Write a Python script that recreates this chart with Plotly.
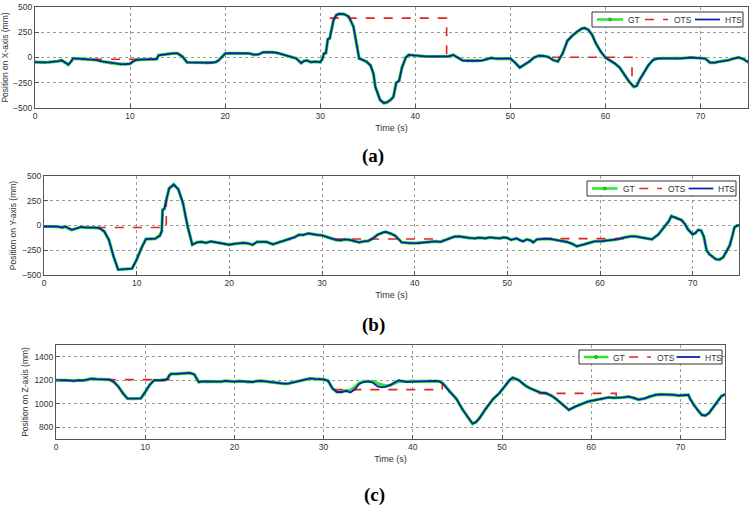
import plotly.graph_objects as go

W, H = 750, 505

# ---------------- Panel (a): X-axis ----------------
t_a = [0, 0.5, 1, 1.5, 2, 2.5, 2.8, 3.2, 3.5, 3.8, 4, 4.5, 5, 5.5, 6, 6.5, 7, 7.5, 8, 8.5, 9, 9.5, 10,
       10.3, 10.6, 11, 11.5, 12, 12.5, 12.8, 13, 13.5, 14, 14.5, 15, 15.5, 16, 16.5, 17, 17.5, 18, 18.5,
       19, 19.3, 19.6, 20, 20.5, 21, 21.5, 22, 22.5, 23, 23.5, 24, 24.5, 25, 25.5, 26, 26.5, 27, 27.5,
       28, 28.3, 28.6, 29, 29.5, 30, 30.2, 30.4, 30.6, 30.8, 31, 31.2, 31.4, 31.7, 32, 32.5, 33, 33.5,
       33.7, 33.9, 34.1, 34.5, 34.9, 35.3, 35.6, 35.8, 36.3, 36.7, 37, 37.4, 37.7, 38, 38.3, 38.6, 39,
       39.3, 40, 40.5, 41, 42, 43, 43.5, 44, 44.5, 45, 45.5, 46, 46.5, 47, 47.5, 48, 48.5, 49, 49.5, 50,
       50.5, 51, 51.5, 52, 52.5, 53, 53.5, 54, 54.5, 55, 55.5, 56, 56.5, 57, 57.5, 57.8, 58.2, 58.6, 59,
       59.5, 60, 60.5, 61, 61.5, 62, 62.5, 63, 63.3, 63.6, 64, 64.5, 65, 65.5, 66, 67, 67.5, 68, 69, 70,
       70.5, 71, 71.5, 72, 72.5, 73, 73.5, 74, 74.5, 75]
gt_a = [-45, -50, -48, -45, -42, -35, -28, -50, -70, -40, -10, -12, -15, -18, -20, -25, -38, -45, -58, -62,
        -65, -66, -62, -40, -25, -22, -20, -20, -22, -15, 22, 30, 38, 40, 40, 10, -48, -50, -48, -52, -55,
        -52, -45, -30, 0, 38, 42, 40, 40, 38, 40, 28, 30, 52, 55, 52, 45, 32, 20, 5, -10, -55, -35, -28,
        -45, -40, -45, -20, 40, 45, 180, 190, 290, 370, 420, 432, 430, 405, 305, 205, 105, -10, -25, -43,
        -80, -160, -290, -420, -450, -445, -420, -390, -250, -230, -100, 0, 25, 18, 15, 12, 10, 15, 12, 25,
        0, -30, -32, -35, -32, -30, -20, -5, -12, -10, -8, -10, -50, -100, -70, -40, 0, 18, 15, 5, -25, -40,
        40, 165, 215, 255, 285, 292, 275, 225, 140, 60, 0, -30, -60, -100, -175, -240, -290, -280, -220,
        -160, -80, -25, -10, -8, -10, -5, -8, 0, -5, -10, -50, -50, -40, -35, -25, -10, 0, -15, -45]
hts_a = list(gt_a)
ots_t_a = [6.1, 13.2, None, 31.0, 43.3, 43.3, None, 54.4, 62.8, 62.8]
ots_a = [-17, -17, None, 390, 390, 15, None, 3, 3, -285]

# ---------------- Panel (b): Y-axis ----------------
t_b = [0, 0.5, 1, 1.5, 2, 2.3, 2.6, 3, 3.5, 4, 4.5, 5, 5.5, 6, 6.5, 7, 7.5, 8, 8.5, 9, 9.5, 10, 10.5, 11,
       11.5, 12, 12.5, 12.7, 12.8, 13, 13.2, 13.5, 14, 14.5, 15, 15.5, 16, 16.5, 17, 17.5, 18, 18.5, 19,
       19.5, 20, 20.5, 21, 21.5, 22, 22.5, 23, 23.5, 24, 24.7, 25.2, 25.5, 26, 26.5, 27, 27.5, 28, 28.5,
       29, 29.5, 30, 30.5, 31, 31.5, 32, 32.5, 33, 33.5, 34, 34.5, 35, 35.5, 36, 36.6, 36.9, 37.5, 37.9,
       38.6, 39.5, 40.4, 41, 41.5, 42.2, 42.8, 43.2, 43.7, 44.3, 44.8, 45.3, 45.9, 46.5, 47, 47.6, 48.1,
       48.6, 49.2, 49.6, 50, 50.4, 51, 51.4, 51.7, 52.1, 52.5, 52.8, 53.2, 54, 54.6, 55.5, 56.4, 57, 57.5,
       58.3, 58.8, 59.4, 60.2, 60.9, 61.8, 62.7, 63.3, 63.8, 64.4, 64.9, 65.6, 66.3, 66.9, 67.4, 67.7,
       68.2, 68.8, 69.2, 69.5, 70, 70.3, 70.6, 70.9, 71.2, 71.5, 71.8, 72.1, 72.5, 72.9, 73.3, 73.6, 74,
       74.3, 74.5, 74.8, 75]
gt_b = [-10, -8, -10, -12, -20, -10, -28, -43, -30, -15, -20, -18, -22, -27, -60, -145, -310, -445, -440,
        -440, -435, -345, -230, -137, -135, -133, -103, -60, 157, 170, 257, 374, 414, 364, 224, -10, -194,
        -170, -165, -175, -160, -170, -175, -185, -194, -185, -180, -175, -180, -195, -165, -165, -165,
        -190, -175, -165, -155, -140, -120, -95, -95, -80, -90, -95, -100, -115, -133, -145, -150, -140,
        -145, -160, -170, -160, -155, -130, -93, -70, -65, -85, -103, -170, -178, -177, -170, -168, -160,
        -165, -150, -127, -112, -110, -120, -125, -130, -122, -130, -120, -125, -130, -120, -125, -145,
        -130, -150, -160, -140, -150, -170, -140, -135, -135, -150, -165, -185, -210, -190, -175, -160,
        -158, -150, -140, -120, -110, -110, -120, -130, -140, -90, -20, 40, 95, 80, 55, 10, -40, -90, -75,
        -45, -50, -110, -250, -290, -310, -340, -345, -320, -270, -200, -100, -20, 0, 0]
hts_b = list(gt_b)
ots_t_b = [5.7, 13.2, 13.2, None, 31.3, 43.0, None, 53.8, 62.8]
ots_b = [-20, -20, 265, None, -137, -137, None, -133, -133]

# ---------------- Panel (c): Z-axis ----------------
t_c = [0, 0.5, 1, 1.5, 2, 2.5, 3, 3.5, 4, 4.5, 5, 5.5, 6, 6.5, 7, 7.5, 8, 8.5, 9, 9.5, 10, 10.5, 11, 11.5,
       12, 12.3, 12.5, 12.7, 12.9, 13.5, 14, 14.5, 15, 15.5, 16, 16.5, 17, 17.5, 18, 18.5, 19, 19.5, 20,
       20.5, 21, 21.5, 22, 22.5, 23, 23.5, 24, 24.5, 25, 25.5, 26, 26.5, 27, 27.5, 28, 28.5, 29, 29.5, 30,
       30.5, 31, 31.5, 32, 32.5, 33, 33.5, 34, 34.5, 35, 35.5, 36, 36.5, 37, 37.5, 38, 38.4, 39, 39.3, 40,
       40.5, 41, 41.9, 42.5, 43, 43.4, 44.1, 44.9, 45.6, 46.1, 46.7, 47.1, 47.5, 48.2, 49, 49.7, 50.1,
       50.5, 50.9, 51.2, 51.5, 51.9, 52.3, 52.7, 53.2, 53.8, 54.3, 54.9, 55.5, 56, 56.4, 56.8, 57.5, 58.2,
       58.6, 59, 59.7, 60.4, 61.2, 62, 62.5, 63.1, 63.6, 64.2, 64.8, 65.3, 66, 66.5, 67.2, 67.8, 68.7,
       69.3, 69.8, 70.4, 70.9, 71.1, 71.5, 72, 72.4, 72.8, 73.2, 73.5, 74, 74.3, 74.6, 75]
gt_c = [1200, 1202, 1200, 1198, 1195, 1200, 1198, 1205, 1213, 1210, 1210, 1205, 1205, 1185, 1145, 1090,
        1045, 1043, 1045, 1045, 1100, 1160, 1200, 1198, 1200, 1205, 1213, 1240, 1255, 1255, 1258, 1255,
        1262, 1250, 1185, 1190, 1188, 1192, 1190, 1188, 1195, 1190, 1188, 1192, 1190, 1182, 1185, 1192,
        1195, 1190, 1185, 1180, 1178, 1172, 1172, 1180, 1190, 1200, 1210, 1215, 1212, 1210, 1208, 1195,
        1130, 1100, 1100, 1110, 1115, 1140, 1175, 1190, 1190, 1190, 1175, 1160, 1150, 1160, 1180, 1190,
        1190, 1190, 1195, 1190, 1192, 1195, 1195, 1190, 1170, 1105, 1040, 948, 890, 830, 845, 880, 960,
        1040, 1090, 1130, 1170, 1205, 1222, 1215, 1200, 1175, 1150, 1130, 1110, 1095, 1090, 1070, 1045,
        1020, 995, 948, 975, 985, 1000, 1020, 1030, 1040, 1055, 1050, 1050, 1055, 1060, 1050, 1035, 1045,
        1060, 1075, 1080, 1080, 1075, 1070, 1075, 1075, 1040, 990, 940, 905, 900, 920, 950, 1000, 1040,
        1065, 1080]
hts_c = [1200, 1202, 1200, 1198, 1195, 1200, 1198, 1205, 1213, 1210, 1210, 1205, 1205, 1185, 1145, 1090,
         1045, 1043, 1045, 1045, 1100, 1160, 1200, 1198, 1200, 1205, 1213, 1240, 1255, 1255, 1258, 1255,
         1262, 1250, 1185, 1190, 1188, 1192, 1190, 1188, 1195, 1190, 1188, 1192, 1190, 1182, 1185, 1192,
         1195, 1190, 1185, 1180, 1178, 1172, 1172, 1180, 1190, 1200, 1210, 1215, 1212, 1210, 1208, 1195,
         1130, 1100, 1100, 1110, 1095, 1120, 1170, 1185, 1190, 1180, 1150, 1140, 1145, 1160, 1185, 1200,
         1190, 1185, 1188, 1190, 1192, 1195, 1195, 1190, 1170, 1105, 1040, 948, 890, 830, 845, 880, 960,
         1040, 1090, 1130, 1170, 1205, 1222, 1215, 1200, 1175, 1150, 1130, 1110, 1095, 1090, 1070, 1045,
         1020, 995, 948, 975, 985, 1000, 1020, 1030, 1040, 1055, 1050, 1050, 1055, 1060, 1050, 1035, 1045,
         1060, 1075, 1080, 1080, 1075, 1070, 1075, 1075, 1040, 990, 940, 905, 900, 920, 950, 1000, 1040,
         1065, 1080]
ots_t_c = [5.7, 13.2, 13.2, None, 31.2, 43.3, 43.3, None, 54.1, 62.8, 62.8]
ots_c = [1205, 1205, 1225, None, 1120, 1120, 1170, None, 1088, 1088, 1065]

series_names = ["GT", "OTS", "HTS"]
y_titles = ["Position on X-axis (mm)", "Position on Y-axis (mm)", "Position on Z-axis (mm)"]
panel_labels = ["(a)", "(b)", "(c)"]
y_ranges = [[-500, 500], [-500, 500], [700, 1500]]
y_ticks = [[-500, -250, 0, 250, 500], [-500, -250, 0, 250, 500], [800, 1000, 1200, 1400]]
x_ticks = [0, 10, 20, 30, 40, 50, 60, 70]

GREEN = "#2fe32f"
RED = "#e02424"
BLUE = "#0b22b0"
COLORS = [GREEN, RED, BLUE]
DASHES = ["solid", "dash", "solid"]
WIDTHS = [3.2, 1.6, 1.8]

# pixel boxes of the three plot areas: (left, right, top, bottom)
boxes = [(35, 748, 7, 108), (44, 739, 176, 275), (56, 725, 345, 439)]
# legend boxes: (left, right, top, bottom)
legend_boxes = [(592, 743, 12, 27), (587, 736, 181, 196), (579, 722, 350, 364)]
label_pos = [(373, 156), (373, 325), (374, 495)]

panels = [
    (t_a, gt_a, hts_a, ots_t_a, ots_a),
    (t_b, gt_b, hts_b, ots_t_b, ots_b),
    (t_c, gt_c, hts_c, ots_t_c, ots_c),
]


def px(x):
    return x / W


def py(y):
    return 1 - y / H


fig = go.Figure()
layout = dict(width=W, height=H, margin=dict(l=0, r=0, t=0, b=0),
              paper_bgcolor="white", plot_bgcolor="white", showlegend=False,
              font=dict(family="Liberation Sans, Arial, sans-serif", size=9, color="#333"),
              annotations=[], shapes=[])

for i, (tt, gt, hts, ot, ov) in enumerate(panels):
    n = "" if i == 0 else str(i + 1)
    xa, ya = "x" + n, "y" + n
    fig.add_trace(go.Scatter(x=tt, y=gt, name="GT", mode="lines+markers",
                             line=dict(color=GREEN, width=3.2),
                             marker=dict(size=3, color=GREEN),
                             xaxis=xa, yaxis=ya))
    fig.add_trace(go.Scatter(x=ot, y=ov, name="OTS", mode="lines",
                             line=dict(color=RED, width=1.6, dash="dash"),
                             xaxis=xa, yaxis=ya))
    fig.add_trace(go.Scatter(x=tt, y=hts, name="HTS", mode="lines",
                             line=dict(color=BLUE, width=1.8),
                             xaxis=xa, yaxis=ya))
    l, r, t, b = boxes[i]
    axcommon = dict(showline=True, mirror=True, linecolor="#555", linewidth=1,
                    showgrid=True, gridcolor="#9a9a9a", griddash="dot", gridwidth=1,
                    zeroline=False, ticks="inside", ticklen=4, tickcolor="#555",
                    automargin=False, tickfont=dict(size=8.5, color="#333"))
    layout["xaxis" + n] = dict(axcommon, domain=[px(l), px(r)], range=[0, 75],
                               tickvals=x_ticks, anchor=ya,
                               title=dict(text="Time (s)", font=dict(size=9, color="#333"), standoff=4))
    layout["yaxis" + n] = dict(axcommon, domain=[py(b), py(t)], range=y_ranges[i],
                               tickvals=y_ticks[i], anchor=xa,
                               title=dict(text=y_titles[i], font=dict(size=8.5, color="#333"), standoff=4))

    # custom legend box
    L, R, T, B = legend_boxes[i]
    wbox = R - L
    s = wbox / 151.0
    cy = (T + B) / 2
    layout["shapes"].append(dict(type="rect", xref="paper", yref="paper",
                                 x0=px(L), x1=px(R), y0=py(B), y1=py(T),
                                 line=dict(color="#333", width=1), fillcolor="white", layer="above"))
    line_offsets = [(5, 31), (53, 76), (103, 128)]
    text_offsets = [34, 80, 131]
    for k in range(3):
        a0, a1 = line_offsets[k]
        layout["shapes"].append(dict(type="line", xref="paper", yref="paper",
                                     x0=px(L + a0 * s), x1=px(L + a1 * s), y0=py(cy), y1=py(cy),
                                     line=dict(color=COLORS[k], width=WIDTHS[k] if k != 0 else 2.5,
                                               dash=DASHES[k]), layer="above"))
        layout["annotations"].append(dict(text=series_names[k], xref="paper", yref="paper",
                                          x=px(L + text_offsets[k] * s), y=py(cy + 0.5),
                                          xanchor="left", yanchor="middle", showarrow=False,
                                          font=dict(size=8.5, color="#333")))
    gx = L + 18 * s
    layout["shapes"].append(dict(type="circle", xref="paper", yref="paper",
                                 x0=px(gx - 1.5), x1=px(gx + 1.5), y0=py(cy + 1.5), y1=py(cy - 1.5),
                                 line=dict(color="#1aa01a", width=1), fillcolor=GREEN, layer="above"))

    lx, ly = label_pos[i]
    layout["annotations"].append(dict(text="<b>" + panel_labels[i] + "</b>", xref="paper", yref="paper",
                                      x=px(lx), y=py(ly), xanchor="center", yanchor="middle",
                                      showarrow=False,
                                      font=dict(family="Liberation Serif, Times New Roman, serif",
                                                size=19, color="black")))

fig.update_layout(**layout)
fig.write_html("out.html", config={"displayModeBar": False},
               post_script="document.body.style.margin='0';")
